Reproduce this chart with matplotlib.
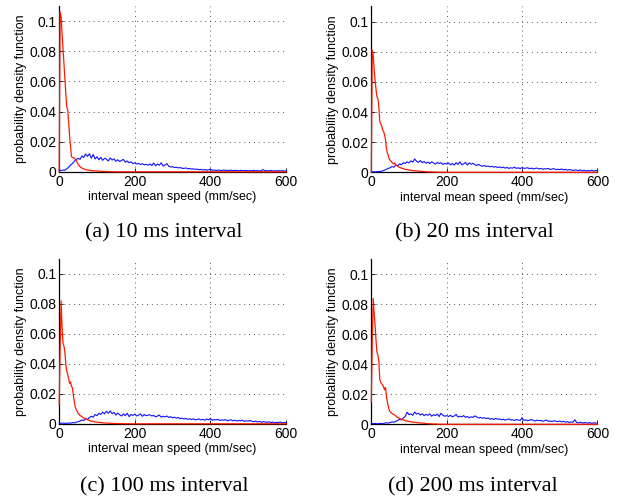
"""Four-panel pdf of interval mean speed for different interval lengths."""

import numpy as np
import matplotlib

matplotlib.use("Agg")
import matplotlib.pyplot as plt

# x grids (mm/sec)
blue_x = np.arange(0, 601, 5)
red_x = np.concatenate([np.arange(0, 150.1, 2.5), [175, 200, 600]])

# pdf values, in units of 1e-3
blue_10ms = [
    1.0, 0.8, 1.2, 1.0, 2.0,
    3.0, 4.5, 5.5, 7.0, 8.0,
    9.0, 8.2, 10.5, 9.5, 11.8, 10.2,
    12.0, 9.0, 11.5, 8.5, 10.0,
    8.0, 9.6, 7.6, 9.0, 8.4, 7.2, 9.2, 7.8, 8.6,
    7.0, 8.0, 6.8, 7.6, 8.2, 6.4, 7.2, 6.0, 6.6, 5.4,
    6.0, 5.2, 5.6, 4.8, 5.4, 4.6, 5.0, 4.4, 5.2, 4.2,
    5.8, 4.0, 5.0, 4.4, 6.0, 3.8, 4.6, 5.4, 3.6, 3.2,
    3.4, 2.8, 3.0, 2.6, 2.8, 2.4, 2.2, 2.6, 2.0, 2.2,
    1.8, 2.0, 1.6, 1.8, 1.4, 1.6, 1.2, 1.5, 1.1, 1.3,
    1.8, 1.0, 1.2, 0.9, 1.1, 1.0, 0.8, 1.2, 0.9, 1.0,
    0.8, 1.1, 0.7, 1.0, 0.9, 0.6, 1.0, 0.8, 0.7, 0.9,
    0.6, 0.8, 0.7, 1.0, 0.6, 0.8, 0.5, 0.9, 1.4, 0.7,
    0.8, 0.6, 0.9, 0.5, 0.7, 0.6, 0.8, 0.5, 0.7, 0.6,
    0.5,
]
red_10ms = [
    0, 106, 103, 92, 82, 72, 62, 52, 43, 41,
    33, 24, 17, 10, 9.6, 9.3, 9.0, 8.6, 7.5, 6.2,
    5.0, 4.2, 3.4, 2.9, 2.5, 2.2, 1.9, 1.7, 1.5, 1.3,
    1.2, 1.1, 1.0, 0.9, 0.8, 0.75, 0.7, 0.65, 0.6, 0.55,
    0.5, 0.45, 0.4, 0.38, 0.35, 0.32, 0.3, 0.28, 0.25, 0.22,
    0.2, 0.18, 0.16, 0.14, 0.12, 0.1, 0.08, 0.06, 0.05, 0.04,
    0.03, 0, 0, 0,
]

blue_20ms = [
    0.3, 0.4, 0.3, 0.5, 0.4,
    0.6, 1.0, 1.4, 2.0, 2.6,
    3.0, 3.8, 3.4, 4.8, 4.2, 5.6,
    5.0, 6.4, 5.8, 7.0, 6.2,
    7.6, 6.8, 8.8, 7.4, 6.6, 7.8, 6.4, 7.2, 6.0,
    6.8, 5.8, 7.0, 6.2, 5.4, 6.6, 5.8, 6.4, 5.2, 6.0,
    5.4, 6.2, 5.0, 5.8, 4.8, 6.4, 5.2, 7.0, 5.0, 5.6,
    6.6, 4.8, 6.2, 5.4, 6.0, 5.0, 4.6, 5.2, 4.4, 4.0,
    4.6, 3.8, 4.2, 3.6, 4.0, 3.4, 3.8, 3.2, 3.6, 3.0,
    3.4, 2.8, 3.2, 2.6, 3.0, 2.8, 3.4, 2.6, 3.0, 2.4,
    3.2, 2.6, 2.8, 3.0, 2.4, 2.8, 2.2, 2.6, 2.8, 2.2,
    2.6, 2.0, 2.4, 2.2, 2.6, 1.8, 2.2, 2.4, 1.8, 2.0,
    1.8, 2.2, 1.6, 2.0, 1.4, 1.8, 1.6, 1.2, 1.6, 1.4,
    1.2, 1.6, 1.0, 1.4, 0.8, 1.2, 1.0, 1.4, 0.8, 1.2,
    1.0,
]
red_20ms = [
    0, 81, 78, 68, 61, 55, 50, 49, 43, 34,
    32, 31, 28, 27, 25, 22, 16, 13, 11, 9,
    8, 7.2, 6.5, 6.0, 5.5, 6.2, 4.5, 4.8, 4.0, 3.6,
    3.3, 3.0, 2.8, 2.6, 2.5, 2.2, 2.0, 1.9, 1.8, 1.6,
    1.5, 1.4, 1.3, 1.2, 1.1, 1.05, 1.0, 0.95, 0.9, 0.85,
    0.8, 0.75, 0.7, 0.65, 0.6, 0.55, 0.5, 0.45, 0.4, 0.35,
    0.3, 0.1, 0, 0,
]

blue_100ms = [
    0.4, 0.3, 0.5, 0.3, 0.4,
    0.5, 0.4, 0.8, 0.6, 1.0,
    1.4, 1.8, 2.6, 2.2, 3.4, 3.0,
    4.2, 5.0, 4.4, 6.2, 5.4,
    7.0, 6.2, 7.8, 6.6, 8.4, 7.0, 8.6, 6.8, 7.6,
    5.8, 7.2, 6.0, 5.2, 6.6, 5.4, 7.0, 4.8, 6.2, 5.6,
    6.4, 5.2, 5.8, 6.6, 5.0, 6.2, 5.4, 5.8, 6.0, 5.2,
    5.6, 4.6, 5.2, 5.8, 4.4, 5.0, 4.6, 5.2, 4.2, 4.8,
    4.0, 4.4, 3.8, 4.2, 3.4, 3.8, 3.2, 3.6, 3.0, 3.4,
    2.8, 3.4, 2.6, 3.0, 3.2, 2.6, 3.0, 2.4, 3.2, 2.6,
    3.6, 2.4, 2.8, 2.6, 3.0, 2.2, 2.6, 2.4, 2.8, 2.0,
    2.4, 2.6, 2.0, 2.4, 1.8, 2.2, 2.0, 2.4, 1.6, 2.0,
    1.8, 2.2, 1.6, 1.4, 1.8, 1.2, 1.6, 1.0, 1.4, 1.2,
    1.0, 1.4, 0.8, 1.2, 0.6, 1.0, 0.8, 1.2, 0.6, 0.8,
    0.7,
]
red_100ms = [
    13, 50, 82, 65, 54, 52, 48, 40, 35, 33,
    30, 27, 28, 25, 24, 19, 15, 11, 9.5, 8.5,
    7, 6.5, 5.6, 5.2, 4.8, 4.3, 4.0, 3.6, 3.2, 3.0,
    2.7, 2.4, 2.2, 2.0, 1.9, 1.7, 1.6, 1.4, 1.3, 1.2,
    1.1, 1.0, 0.95, 0.9, 0.8, 0.75, 0.7, 0.6, 0.55, 0.5,
    0.45, 0.42, 0.4, 0.35, 0.32, 0.3, 0.28, 0.25, 0.22, 0.2,
    0.18, 0.05, 0, 0,
]

blue_200ms = [
    0.8, 0.4, 0.6, 0.3, 0.5,
    0.6, 0.4, 0.8, 1.0, 0.8,
    1.2, 1.6, 1.4, 2.0, 2.6, 3.2,
    3.0, 4.2, 5.2, 8.0, 6.4,
    7.0, 6.0, 8.2, 6.8, 7.4, 6.2, 7.0, 5.8, 6.6,
    6.0, 7.0, 5.4, 6.4, 5.8, 6.8, 5.2, 7.4, 6.0, 5.4,
    5.8, 5.2, 6.0, 5.0, 5.6, 6.6, 4.8, 5.4, 5.0, 5.8,
    4.6, 5.2, 4.4, 5.0, 4.6, 5.6, 4.8, 4.2, 4.6, 4.0,
    4.4, 3.8, 4.2, 3.4, 3.8, 3.2, 4.0, 3.4, 3.6, 3.0,
    3.4, 2.8, 3.2, 3.6, 2.8, 3.0, 2.6, 3.2, 2.8, 2.6,
    4.4, 2.6, 3.0, 2.4, 2.8, 3.2, 2.6, 2.2, 2.8, 2.4,
    2.6, 2.0, 2.4, 2.8, 2.0, 2.2, 1.8, 2.4, 2.0, 1.8,
    2.2, 1.6, 2.0, 1.4, 1.8, 1.2, 1.6, 1.4, 3.0, 1.2,
    1.0, 1.4, 0.8, 1.2, 1.0, 0.8, 1.2, 0.6, 1.0, 0.8,
    0.8,
]
red_200ms = [
    15, 55, 84, 74, 66, 56, 48, 46, 42, 30,
    28, 27, 26.5, 25, 23, 24.5, 19, 15, 12, 9.5,
    8.4, 7.8, 7.2, 6.8, 6.5, 6.2, 5.6, 5.0, 4.6, 4.2,
    4.0, 3.6, 3.4, 3.1, 2.9, 2.7, 2.5, 2.3, 2.2, 2.0,
    1.9, 1.8, 1.7, 1.6, 1.5, 1.4, 1.35, 1.3, 1.2, 1.1,
    1.0, 0.95, 0.9, 0.85, 0.8, 0.75, 0.7, 0.6, 0.5, 0.45,
    0.4, 0.1, 0, 0,
]

captions = ["(a) 10 ms interval", "(b) 20 ms interval",
            "(c) 100 ms interval", "(d) 200 ms interval"]
x_ticks = [0, 200, 400, 600]
y_ticks = [0, 0.02, 0.04, 0.06, 0.08, 0.1]
y_tick_labels = ["0", "0.02", "0.04", "0.06", "0.08", "0.1"]

panels = [
    (blue_10ms, red_10ms),
    (blue_20ms, red_20ms),
    (blue_100ms, red_100ms),
    (blue_200ms, red_200ms),
]

# axes rectangles in figure fractions (left, bottom, width, height)
rects = [
    (0.0950, 0.655, 0.364, 0.333),
    (0.5960, 0.654, 0.363, 0.333),
    (0.0950, 0.149, 0.364, 0.331),
    (0.5960, 0.148, 0.363, 0.331),
]
caption_pos = [(0.263, 0.532), (0.761, 0.532), (0.263, 0.022), (0.759, 0.022)]

plt.rcParams["font.family"] = ["Liberation Sans", "DejaVu Sans"]

fig = plt.figure(figsize=(6.23, 4.98), dpi=100)
for (blue, red), rect, caption, cpos in zip(panels, rects, captions, caption_pos):
    ax = fig.add_axes(rect)
    ax.plot(blue_x, np.asarray(blue) * 1e-3, color="#1010ff", linewidth=0.8,
            zorder=3, clip_on=False)
    ax.plot(red_x, np.asarray(red) * 1e-3, color="#ff1a00", linewidth=0.9,
            zorder=4, clip_on=False)
    ax.set_xlim(0, 600)
    ax.set_ylim(0, 0.11)
    ax.set_xticks(x_ticks)
    ax.set_yticks(y_ticks)
    ax.set_yticklabels(y_tick_labels)
    ax.grid(True, linestyle=(0, (1, 4)), color="#555555", linewidth=0.7)
    ax.set_axisbelow(True)
    ax.spines["top"].set_visible(False)
    ax.spines["right"].set_visible(False)
    for side in ("left", "bottom"):
        ax.spines[side].set_linewidth(0.9)
    ax.tick_params(direction="in", length=3, width=0.6, labelsize=10, pad=2)
    ax.set_xlabel("interval mean speed (mm/sec)", fontsize=9, labelpad=2)
    ax.set_ylabel("probability density function", fontsize=9, labelpad=2)
    fig.text(cpos[0], cpos[1], caption, ha="center", va="center",
             fontsize=16, family=["Liberation Serif", "DejaVu Serif"])

fig.savefig("out.png", dpi=100)
